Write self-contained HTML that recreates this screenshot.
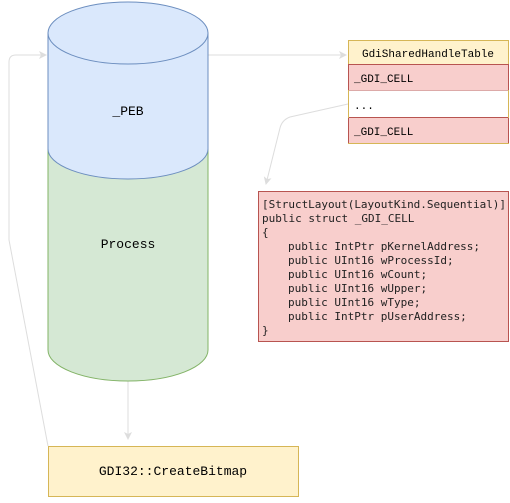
<!DOCTYPE html>
<html><head><meta charset="utf-8"><style>
body{margin:0;background:#fff;width:510px;height:498px;overflow:hidden}
svg text{font-family:"Liberation Mono",monospace}
</style></head><body>
<svg width="510" height="498" viewBox="0 0 510 498" xmlns="http://www.w3.org/2000/svg">
<defs><marker id="a" markerWidth="8" markerHeight="8" refX="7" refY="4" orient="auto" markerUnits="userSpaceOnUse"><path d="M0,0 L8,4 L0,8 L2,4 Z" fill="#ddd"/></marker></defs>
<!-- connectors -->
<path d="M208,55 L346,55" stroke="#ddd" fill="none" marker-end="url(#a)"/>
<path d="M48,446 L9,240 L9,62 Q9,55 16,55 L46,55" stroke="#ddd" fill="none" marker-end="url(#a)"/>
<path d="M128,381 L128,439" stroke="#ddd" fill="none" marker-end="url(#a)"/>
<path d="M348,104 L290,117 Q282,120 280,128 L266,184" stroke="#ddd" fill="none" marker-end="url(#a)"/>
<!-- green cylinder -->
<path d="M48,140 L48,350 A80,31 0 0 0 208,350 L208,140 Z" fill="#d5e8d4" stroke="#82b366"/>
<!-- blue cylinder -->
<path d="M48,33 L48,149 A80,30 0 0 0 208,149 L208,33 Z" fill="#dae8fc" stroke="#6c8ebf"/>
<ellipse cx="128" cy="33" rx="80" ry="31" fill="#dae8fc" stroke="#6c8ebf"/>
<text x="128" y="115" font-size="13" text-anchor="middle">_PEB</text>
<text x="128" y="248" font-size="13" text-anchor="middle">Process</text>
<!-- table -->
<rect x="348.5" y="40.5" width="160" height="103" fill="#fff2cc" stroke="#d6b656"/>
<rect x="348.5" y="64.5" width="160" height="26" fill="#f8cecc" stroke="#b85450"/>
<rect x="348.5" y="90.5" width="160" height="27" fill="#fff"/>
<rect x="348.5" y="117.5" width="160" height="26" fill="#f8cecc" stroke="#b85450"/>
<line x1="348.5" y1="90" x2="348.5" y2="118" stroke="#d6b656"/>
<line x1="508.5" y1="90" x2="508.5" y2="118" stroke="#d6b656"/>
<line x1="348" y1="143.5" x2="509" y2="143.5" stroke="#d6b656"/>
<text x="428" y="57" font-size="11" text-anchor="middle">GdiSharedHandleTable</text>
<text x="354" y="82" font-size="11">_GDI_CELL</text>
<text x="354" y="109" font-size="11">...</text>
<text x="354" y="135" font-size="11">_GDI_CELL</text>
<!-- code box -->
<rect x="258.5" y="191.5" width="250" height="150" fill="#f8cecc" stroke="#b85450"/>
<g font-size="11" style="font-family:'DejaVu Sans Mono',monospace" fill="#222">
<text x="262" y="208" style="font-family:'DejaVu Sans Mono',monospace" textLength="244">[StructLayout(LayoutKind.Sequential)]</text>
<text x="262" y="222" style="font-family:'DejaVu Sans Mono',monospace">public struct _GDI_CELL</text>
<text x="262" y="236" style="font-family:'DejaVu Sans Mono',monospace">{</text>
<text x="288" y="250" style="font-family:'DejaVu Sans Mono',monospace">public IntPtr pKernelAddress;</text>
<text x="288" y="264" style="font-family:'DejaVu Sans Mono',monospace">public UInt16 wProcessId;</text>
<text x="288" y="278" style="font-family:'DejaVu Sans Mono',monospace">public UInt16 wCount;</text>
<text x="288" y="292" style="font-family:'DejaVu Sans Mono',monospace">public UInt16 wUpper;</text>
<text x="288" y="306" style="font-family:'DejaVu Sans Mono',monospace">public UInt16 wType;</text>
<text x="288" y="320" style="font-family:'DejaVu Sans Mono',monospace">public IntPtr pUserAddress;</text>
<text x="262" y="334" style="font-family:'DejaVu Sans Mono',monospace">}</text>
</g>
<!-- GDI32 box -->
<rect x="48.5" y="446.5" width="250" height="50" fill="#fff2cc" stroke="#d6b656"/>
<text x="173" y="475" font-size="13" text-anchor="middle">GDI32::CreateBitmap</text>
</svg>
</body></html>
